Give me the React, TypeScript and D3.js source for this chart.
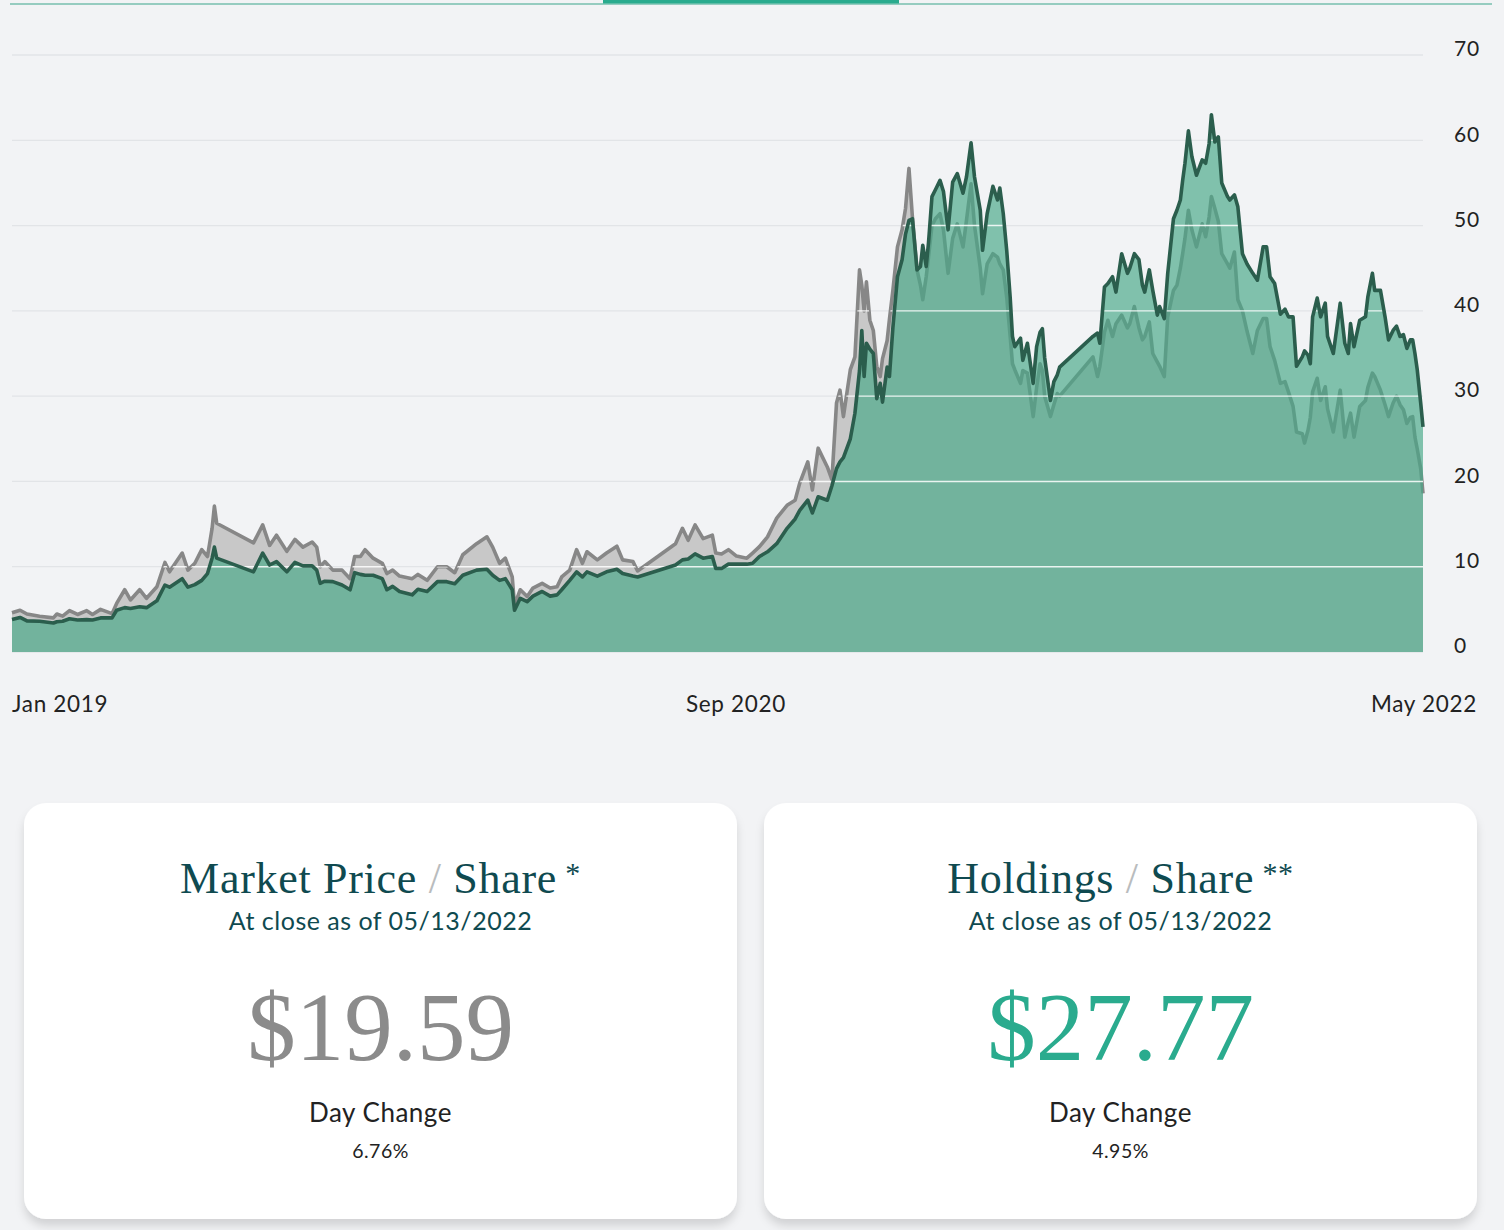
import React, { useEffect } from 'react';
import * as d3 from 'd3';

// price history (Jan 2019 - May 2022)
const dates = [
  '2019-01-02', '2019-01-09', '2019-01-15', '2019-01-26', '2019-02-07', '2019-02-10', '2019-02-15', '2019-02-21',
  '2019-02-28', '2019-03-08', '2019-03-13', '2019-03-20', '2019-03-30', '2019-04-03', '2019-04-10', '2019-04-15',
  '2019-04-23', '2019-04-29', '2019-05-08', '2019-05-15', '2019-05-19', '2019-05-30', '2019-06-04', '2019-06-10',
  '2019-06-16', '2019-06-21', '2019-06-25', '2019-06-27', '2019-06-29', '2019-07-31', '2019-08-08', '2019-08-14',
  '2019-08-20', '2019-08-29', '2019-09-05', '2019-09-12', '2019-09-20', '2019-09-24', '2019-09-27', '2019-10-01',
  '2019-10-08', '2019-10-16', '2019-10-23', '2019-10-27', '2019-11-01', '2019-11-05', '2019-11-12', '2019-11-20',
  '2019-11-24', '2019-11-29', '2019-12-05', '2019-12-16', '2019-12-21', '2019-12-29', '2020-01-07', '2020-01-15',
  '2020-01-22', '2020-01-29', '2020-02-10', '2020-02-19', '2020-02-24', '2020-03-01', '2020-03-06', '2020-03-12',
  '2020-03-14', '2020-03-19', '2020-03-25', '2020-03-30', '2020-04-07', '2020-04-14', '2020-04-20', '2020-04-24',
  '2020-05-01', '2020-05-07', '2020-05-12', '2020-05-16', '2020-05-25', '2020-06-02', '2020-06-11', '2020-06-16',
  '2020-06-25', '2020-06-29', '2020-08-01', '2020-08-07', '2020-08-12', '2020-08-18', '2020-08-25', '2020-09-02',
  '2020-09-05', '2020-09-10', '2020-09-16', '2020-09-23', '2020-10-02', '2020-10-07', '2020-10-13', '2020-10-20',
  '2020-10-28', '2020-11-06', '2020-11-13', '2020-11-17', '2020-11-24', '2020-11-28', '2020-12-03', '2020-12-11',
  '2020-12-15', '2020-12-19', '2020-12-22', '2020-12-25', '2020-12-31', '2021-01-04', '2021-01-08', '2021-01-10',
  '2021-01-12', '2021-01-14', '2021-01-17', '2021-01-20', '2021-01-23', '2021-01-26', '2021-01-28', '2021-02-01',
  '2021-02-03', '2021-02-06', '2021-02-10', '2021-02-14', '2021-02-17', '2021-02-20', '2021-02-23', '2021-02-27',
  '2021-03-02', '2021-03-04', '2021-03-07', '2021-03-09', '2021-03-12', '2021-03-15', '2021-03-19', '2021-03-22',
  '2021-03-26', '2021-03-30', '2021-04-03', '2021-04-08', '2021-04-11', '2021-04-15', '2021-04-18', '2021-04-23',
  '2021-04-25', '2021-04-29', '2021-05-04', '2021-05-08', '2021-05-10', '2021-05-13', '2021-05-16', '2021-05-19',
  '2021-05-21', '2021-05-23', '2021-05-28', '2021-05-30', '2021-06-03', '2021-06-08', '2021-06-11', '2021-06-14',
  '2021-06-16', '2021-06-18', '2021-06-23', '2021-06-26', '2021-06-29', '2021-07-01', '2021-07-30', '2021-08-03',
  '2021-08-05', '2021-08-09', '2021-08-12', '2021-08-16', '2021-08-19', '2021-08-24', '2021-08-29', '2021-08-31',
  '2021-09-04', '2021-09-08', '2021-09-11', '2021-09-13', '2021-09-17', '2021-09-20', '2021-09-24', '2021-09-26',
  '2021-09-30', '2021-10-03', '2021-10-08', '2021-10-11', '2021-10-14', '2021-10-16', '2021-10-18', '2021-10-21',
  '2021-10-24', '2021-10-28', '2021-11-02', '2021-11-05', '2021-11-08', '2021-11-10', '2021-11-13', '2021-11-16',
  '2021-11-19', '2021-11-24', '2021-11-26', '2021-11-30', '2021-12-03', '2021-12-07', '2021-12-11', '2021-12-16',
  '2021-12-20', '2021-12-25', '2021-12-28', '2021-12-31', '2022-01-04', '2022-01-09', '2022-01-13', '2022-01-16',
  '2022-01-20', '2022-01-23', '2022-01-28', '2022-01-30', '2022-02-02', '2022-02-04', '2022-02-06', '2022-02-10',
  '2022-02-13', '2022-02-17', '2022-02-19', '2022-02-24', '2022-03-02', '2022-03-06', '2022-03-09', '2022-03-11',
  '2022-03-14', '2022-03-19', '2022-03-24', '2022-03-26', '2022-03-30', '2022-04-01', '2022-04-06', '2022-04-10',
  '2022-04-13', '2022-04-17', '2022-04-20', '2022-04-23', '2022-04-26', '2022-04-29', '2022-05-02', '2022-05-04',
  '2022-05-06', '2022-05-08', '2022-05-11', '2022-05-13',
];

const marketPrice = [
  4.6, 4.9, 4.45, 4.2, 4.0, 4.45, 4.2, 4.85,
  4.4, 4.85, 4.4, 5.0, 4.5, 5.7, 7.3, 6.1,
  7.3, 6.3, 7.65, 10.5, 9.4, 11.6, 9.6, 10.4,
  12.0, 11.2, 14.5, 17.1, 15.1, 12.8, 14.9, 12.5,
  13.7, 11.8, 13.2, 12.3, 12.9, 12.3, 10.0, 10.6,
  9.6, 9.6, 8.6, 11.2, 11.2, 12.0, 11.0, 10.4,
  9.2, 9.6, 8.9, 8.6, 9.1, 8.4, 10.0, 10.0,
  9.3, 11.4, 12.7, 13.5, 12.3, 10.4, 11.0, 8.8,
  5.5, 7.3, 6.5, 7.5, 8.05, 7.5, 7.65, 8.8,
  9.6, 12.0, 10.4, 11.75, 10.8, 11.6, 12.4, 10.8,
  10.6, 9.5, 12.7, 14.5, 13.1, 14.9, 13.3, 13.7,
  11.6, 11.5, 12.0, 11.25, 11.0, 11.6, 12.35, 13.5,
  15.7, 17.2, 17.8, 19.8, 22.3, 19.0, 23.9, 21.7,
  20.2, 29.2, 30.7, 27.6, 33.1, 34.6, 44.8, 43.0,
  40.0, 43.4, 38.9, 37.7, 33.5, 32.3, 34.4, 36.5,
  39.0, 42.4, 47.5, 49.5, 52.0, 56.7, 51.0, 44.8,
  43.0, 41.3, 44.0, 46.3, 50.0, 50.8, 51.4, 49.5,
  44.4, 48.5, 50.2, 47.5, 50.6, 54.9, 50.0, 45.0,
  42.0, 45.5, 46.7, 46.3, 45.5, 44.8, 41.6, 37.0,
  33.8, 33.1, 31.5, 33.0, 32.7, 27.6, 31.0, 33.8,
  33.0, 30.0, 27.6, 29.0, 30.3, 30.0, 34.6, 32.3,
  33.5, 37.5, 38.9, 37.0, 38.5, 39.5, 38.0, 38.5,
  40.5, 38.0, 36.6, 37.0, 38.7, 35.0, 34.0, 33.5,
  32.3, 39.3, 42.4, 43.0, 45.0, 46.7, 48.5, 51.8,
  49.5, 47.5, 50.2, 48.7, 51.0, 53.4, 52.0, 50.5,
  46.7, 45.5, 45.0, 46.9, 41.3, 40.0, 37.6, 35.0,
  37.7, 39.1, 39.1, 35.8, 34.2, 31.5, 31.7, 30.5,
  28.8, 25.8, 25.6, 24.5, 26.0, 27.5, 30.5, 32.1,
  29.5, 31.1, 28.5, 25.8, 30.7, 25.2, 27.0, 28.0,
  25.2, 28.8, 29.5, 31.0, 32.7, 32.3, 30.7, 29.0,
  27.6, 29.2, 30.0, 29.0, 28.4, 26.8, 27.5, 27.6,
  25.2, 23.8, 21.5, 18.6,
];

const holdings = [
  3.8, 4.05, 3.65, 3.6, 3.4, 3.55, 3.6, 3.9,
  3.75, 3.8, 3.75, 4.0, 4.0, 4.9, 5.2, 5.1,
  5.3, 5.2, 6.0, 7.85, 7.6, 8.6, 7.6, 7.9,
  8.4, 9.2, 11.0, 12.3, 11.0, 9.4, 11.6, 10.2,
  10.6, 9.4, 10.5, 10.1, 10.1, 9.6, 8.05, 8.3,
  8.25, 7.85, 7.3, 9.3, 9.1, 9.0, 9.0, 8.6,
  7.3, 7.7, 7.1, 6.7, 7.35, 7.1, 8.25, 8.25,
  8.0, 9.0, 9.6, 9.7, 9.0, 8.4, 8.6, 7.3,
  4.9, 6.3, 5.9, 6.55, 7.1, 6.55, 6.7, 7.3,
  8.4, 9.4, 8.8, 9.4, 8.9, 9.4, 9.7, 9.2,
  8.9, 8.8, 10.2, 10.8, 10.9, 11.5, 11.0, 11.2,
  9.8, 9.8, 10.3, 10.3, 10.3, 10.4, 11.2, 11.75,
  12.7, 14.5, 15.6, 16.6, 17.8, 16.3, 18.2, 17.8,
  19.5, 21.5, 22.3, 22.8, 25.0, 28.0, 33.0, 37.7,
  32.3, 36.2, 35.5, 35.0, 29.7, 31.5, 29.3, 33.4,
  32.3, 38.0, 44.0, 46.0, 49.0, 50.6, 50.8, 44.8,
  45.2, 47.7, 45.2, 48.0, 53.4, 54.2, 55.3, 54.0,
  49.5, 55.1, 56.1, 53.8, 55.7, 59.7, 55.7, 51.8,
  47.1, 51.4, 54.6, 53.0, 54.4, 51.4, 47.1, 41.6,
  37.0, 35.8, 36.8, 34.2, 36.2, 31.5, 35.8, 37.5,
  37.9, 34.5, 29.5, 31.7, 32.5, 33.4, 37.0, 37.4,
  36.2, 42.8, 43.2, 44.0, 42.2, 46.7, 44.4, 45.0,
  46.7, 46.0, 43.0, 42.2, 44.8, 42.4, 39.5, 40.5,
  39.1, 44.4, 50.8, 51.8, 53.0, 55.3, 57.3, 61.1,
  58.1, 55.9, 57.7, 57.3, 59.6, 63.0, 59.8, 60.4,
  55.0, 53.4, 53.0, 53.6, 52.2, 46.7, 45.5, 44.4,
  43.6, 47.5, 47.5, 44.0, 43.2, 39.6, 40.2, 39.3,
  39.3, 33.5, 34.6, 35.3, 34.8, 33.8, 39.3, 41.5,
  39.3, 40.9, 37.0, 35.0, 40.9, 36.2, 35.0, 38.5,
  35.8, 38.9, 39.3, 41.6, 44.4, 42.4, 42.4, 39.3,
  36.6, 37.7, 38.2, 37.0, 37.2, 35.6, 36.6, 36.6,
  35.0, 33.1, 29.2, 26.4,
];

const yTicks = [0, 10, 20, 30, 40, 50, 60, 70];
const xLabels = ['Jan 2019', 'Sep 2020', 'May 2022'];

const cards = [
  { title: 'Market Price', stars: '*', asOf: 'At close as of 05/13/2022', price: '$19.59', change: '6.76%', color: '#8b8b8b' },
  { title: 'Holdings', stars: '**', asOf: 'At close as of 05/13/2022', price: '$27.77', change: '4.95%', color: '#2aab8e' },
];

const W = 1504;
const H = 1230;
const plot = { left: 12, right: 1423, top: 55, bottom: 652 };
const sans = 'Lato, "Open Sans", sans-serif';
const serif = '"Liberation Serif", "DejaVu Serif", serif';
const teal = '#0f4a50';

export default function App() {
  useEffect(() => {
    document.body.style.margin = '0';
    document.body.style.background = '#f2f3f5';
  }, []);

  const parse = d3.timeParse('%Y-%m-%d');
  const rows = dates.map((d, i) => ({ date: parse(d) as Date, m: marketPrice[i], h: holdings[i] }));

  const x = d3.scaleTime()
    .domain(d3.extent(rows, (r) => r.date) as [Date, Date])
    .range([plot.left, plot.right]);
  const y = d3.scaleLinear().domain([0, 70]).range([plot.bottom, plot.top]);

  const marketArea = d3.area<any>().x((r) => x(r.date)).y0(y(0)).y1((r) => y(r.m));
  const holdArea = d3.area<any>().x((r) => x(r.date)).y0(y(0)).y1((r) => y(r.h));
  const topArea = d3.area<any>().x((r) => x(r.date)).y0(y(0)).y1((r) => y(Math.max(r.m, r.h)));
  const marketLine = d3.line<any>().x((r) => x(r.date)).y((r) => y(r.m));
  const holdLine = d3.line<any>().x((r) => x(r.date)).y((r) => y(r.h));

  const cardW = 713;
  const cardTop = 803;
  const cardH = 416;

  return (
    <svg width={W} height={H} style={{ position: 'absolute', left: 0, top: 0, display: 'block' }}>
      <defs>
        <clipPath id="under-lines">
          <path d={topArea(rows) as string} />
        </clipPath>
        <filter id="card-shadow" x="-5%" y="-5%" width="110%" height="115%">
          <feDropShadow dx="0" dy="7" stdDeviation="4" floodColor="#000" floodOpacity="0.13" />
        </filter>
      </defs>
      <rect width={W} height={H} fill="#f2f3f5" />

      {/* top tab rule */}
      <line x1={10} x2={1492} y1={4} y2={4} stroke="#3aa58b" strokeWidth={1.2} />
      <rect x={603} y={0} width={296} height={3.5} fill="#2aab8e" />

      {/* gridlines behind */}
      {yTicks.map((t) => (
        <line key={'g' + t} x1={plot.left} x2={plot.right} y1={y(t)} y2={y(t)} stroke="#e2e4e7" strokeWidth={1.3} />
      ))}

      <path d={marketArea(rows) as string} fill="#c8c8c8" />
      <path d={marketLine(rows) as string} fill="none" stroke="#878787" strokeWidth={3.6} strokeLinejoin="round" />
      <path d={holdArea(rows) as string} fill="rgb(72,169,135)" fillOpacity={0.67} />

      {/* gridlines read white over the filled part */}
      <g clipPath="url(#under-lines)">
        {yTicks.filter((t) => t > 0).map((t) => (
          <line key={'w' + t} x1={plot.left} x2={plot.right} y1={y(t)} y2={y(t)} stroke="#ffffff" strokeOpacity={0.85} strokeWidth={1.4} />
        ))}
      </g>

      <path d={holdLine(rows) as string} fill="none" stroke="#2b5e4d" strokeWidth={3.6} strokeLinejoin="round" />

      {/* y labels */}
      {yTicks.map((t) => (
        <text key={'t' + t} x={1454} y={y(t) - 6} dy="0.35em" fontFamily={sans} fontSize={21} fill="#222" letterSpacing={0.8}>
          {t}
        </text>
      ))}

      {/* x labels, spread like the page does */}
      <text x={12} y={712} fontFamily={sans} fontSize={22.5} fill="#222" letterSpacing={0.7}>{xLabels[0]}</text>
      <text x={736} y={712} textAnchor="middle" fontFamily={sans} fontSize={22.5} fill="#222" letterSpacing={0.7}>{xLabels[1]}</text>
      <text x={1477} y={712} textAnchor="end" fontFamily={sans} fontSize={22.5} fill="#222" letterSpacing={0.7}>{xLabels[2]}</text>

      {cards.map((c, i) => {
        const left = 24 + i * 740;
        const cx = left + cardW / 2;
        return (
          <g key={c.title}>
            <rect x={left} y={cardTop} width={cardW} height={cardH} rx={22} fill="#fff" filter="url(#card-shadow)" />
            <text x={cx} y={893} textAnchor="middle" fontFamily={serif} fontSize={44} fill={teal} letterSpacing={0.7}>
              <tspan>{c.title}</tspan>
              <tspan fill="#b9bcbe" fontWeight={300}> / </tspan>
              <tspan>Share</tspan>
              <tspan fontSize={30} dy={-10}> {c.stars}</tspan>
            </text>
            <text x={cx} y={930} textAnchor="middle" fontFamily={sans} fontSize={25} fill={teal} letterSpacing={0.5}>
              {c.asOf}
            </text>
            <text x={cx} y={1060} textAnchor="middle" fontFamily={serif} fontSize={97} fill={c.color}>
              {c.price}
            </text>
            <text x={cx} y={1122} textAnchor="middle" fontFamily={sans} fontSize={26} fill="#222" letterSpacing={0.5}>
              Day Change
            </text>
            <text x={cx} y={1158} textAnchor="middle" fontFamily={sans} fontSize={19.5} fill="#222" letterSpacing={0.5}>
              {c.change}
            </text>
          </g>
        );
      })}
    </svg>
  );
}
